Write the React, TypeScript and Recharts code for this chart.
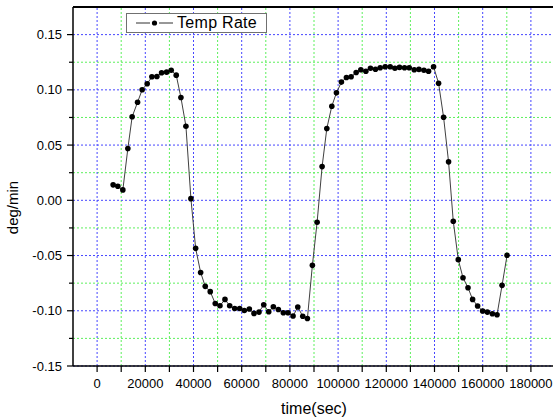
import { LineChart, Line, XAxis, YAxis, ReferenceLine, Legend } from 'recharts';

// time (s) and rate (deg/min)
const TIME = [
  6650, 8600, 10680, 12760, 14540, 16790, 18700, 20780, 22730, 24810, 26760, 28840, 30750, 32830,
  34780, 36860, 38930, 40890, 42960, 44870, 46950, 49030, 50980, 53060, 55010, 57090, 59170, 61080,
  63160, 65110, 67190, 69140, 71220, 73130, 75210, 77280, 79240, 81310, 83270, 85340, 87260, 89330,
  91290, 93360, 95320, 97390, 99310, 101380, 103460, 105410, 107490, 109440, 111520, 113430, 115510,
  117460, 119540, 121620, 123570, 125480, 127560, 129510, 131590, 133540, 135620, 137530, 139610,
  141690, 143770, 145840, 147790, 149870, 151820, 153900, 155810, 157890, 159970, 161920, 164000,
  165950, 168030, 170110,
];
const RATE = [
  0.014, 0.0127, 0.0094, 0.0469, 0.0756, 0.0888, 0.1001, 0.1055, 0.1118, 0.1121, 0.1155, 0.116,
  0.1178, 0.1133, 0.0931, 0.0671, 0.0015, -0.0435, -0.0653, -0.0779, -0.0827, -0.0934, -0.0954,
  -0.0897, -0.0954, -0.0979, -0.0979, -0.0997, -0.0984, -0.1024, -0.1012, -0.0945, -0.1009, -0.0963,
  -0.0988, -0.1018, -0.1018, -0.1048, -0.0966, -0.105, -0.107, -0.0589, -0.0199, 0.0305, 0.065,
  0.0852, 0.0973, 0.107, 0.1112, 0.1118, 0.1157, 0.1182, 0.1169, 0.1196, 0.1187, 0.12, 0.1209,
  0.1209, 0.1196, 0.1203, 0.12, 0.12, 0.1182, 0.1185, 0.1178, 0.1169, 0.1209, 0.106, 0.0752, 0.0348,
  -0.019, -0.0537, -0.0701, -0.0791, -0.0897, -0.0957, -0.1002, -0.1012, -0.1027, -0.1036, -0.077,
  -0.0498,
];

const X_MAJOR = [0, 20000, 40000, 60000, 80000, 100000, 120000, 140000, 160000, 180000];
const X_MINOR = [10000, 30000, 50000, 70000, 90000, 110000, 130000, 150000, 170000];
const Y_MAJOR = [-0.15, -0.1, -0.05, 0, 0.05, 0.1, 0.15];
const Y_MINOR = [-0.125, -0.075, -0.025, 0.025, 0.075, 0.125];

const data = TIME.map((t, i) => ({ time: t, rate: RATE[i] }));

const FONT = '"Liberation Sans", Arial, sans-serif';
const AXIS_X = 73;
const BLUE = '#4646ff';
const GREEN = '#5cf05c';

function YTick(props: any) {
  const { y, payload } = props;
  const v = payload.value as number;
  const major = Y_MAJOR.some((m) => Math.abs(m - v) < 1e-9);
  return (
    <g>
      <line x1={AXIS_X - (major ? 6 : 4)} x2={AXIS_X} y1={y} y2={y} stroke="#000" strokeWidth={1.2} />
      {major && (
        <text x={AXIS_X - 11} y={y} dy="0.35em" textAnchor="end" fontSize={13} fill="#000" fontFamily={FONT}>
          {v.toFixed(2)}
        </text>
      )}
    </g>
  );
}

function YLabel(props: any) {
  const { viewBox } = props;
  const cx = 13;
  const cy = viewBox.y + viewBox.height / 2 + 21;
  return (
    <text x={cx} y={cy} transform={`rotate(-90 ${cx} ${cy})`} textAnchor="middle" dy="0.35em" fontSize={15} fill="#000" fontFamily={FONT}>
      deg/min
    </text>
  );
}

function LegendBox() {
  return (
    <div
      style={{
        display: 'flex',
        alignItems: 'center',
        width: 139,
        height: 18,
        border: '1px solid #707070',
        background: '#fff',
        fontFamily: FONT,
        fontSize: 16,
        color: '#000',
        boxSizing: 'content-box',
      }}
    >
      <svg width={50} height={18}>
        <line x1={9} x2={23} y1={9} y2={9} stroke="#303030" strokeWidth={1} />
        <line x1={32} x2={46} y1={9} y2={9} stroke="#303030" strokeWidth={1} />
        <circle cx={27.5} cy={9} r={2.6} fill="#000" />
      </svg>
      <span style={{ lineHeight: '18px', letterSpacing: 0.3 }}>Temp Rate</span>
    </div>
  );
}

export default function App() {
  return (
    <div style={{ position: 'absolute', left: 0, top: 0, width: 553, height: 419, overflow: 'hidden', background: '#fff' }}>
      <LineChart width={560} height={419} data={data} margin={{ top: 7, right: 5, left: 0, bottom: 0 }} style={{ fontFamily: FONT }}>
        {X_MINOR.map((v) => (
          <ReferenceLine key={`xm${v}`} x={v} stroke={GREEN} strokeDasharray="2 2" />
        ))}
        {Y_MINOR.map((v) => (
          <ReferenceLine key={`ym${v}`} y={v} stroke={GREEN} strokeDasharray="2 2" />
        ))}
        {X_MAJOR.map((v) => (
          <ReferenceLine key={`xM${v}`} x={v} stroke={BLUE} strokeDasharray="2 2" />
        ))}
        {Y_MAJOR.map((v) => (
          <ReferenceLine key={`yM${v}`} y={v} stroke={BLUE} strokeDasharray="2 2" />
        ))}
        <ReferenceLine y={0.175} stroke="#000" strokeWidth={2} />
        <XAxis
          dataKey="time"
          type="number"
          domain={[-10000, 190000]}
          ticks={[...X_MAJOR, ...X_MINOR].sort((a, b) => a - b)}
          tickFormatter={(v: number) => (v % 20000 === 0 ? String(v) : '')}
          interval={0}
          height={53}
          tickSize={6}
          tickMargin={7}
          axisLine={{ stroke: '#000', strokeWidth: 1.5 }}
          tickLine={{ stroke: '#000', strokeWidth: 1.2 }}
          tick={{ fill: '#000', fontSize: 13 }}
          label={{ value: 'time(sec)', position: 'insideBottom', offset: 5, fill: '#000', fontSize: 16 }}
        />
        <YAxis
          type="number"
          domain={[-0.15, 0.175]}
          ticks={[...Y_MAJOR, ...Y_MINOR].sort((a, b) => a - b)}
          interval={0}
          width={73}
          axisLine={{ stroke: '#000', strokeWidth: 1.5 }}
          tickLine={false}
          tick={<YTick />}
          label={<YLabel />}
        />
        <Legend
          layout="vertical"
          align="center"
          verticalAlign="middle"
          content={<LegendBox />}
          wrapperStyle={{ left: 126, top: 13, width: 'auto' }}
        />
        <Line
          dataKey="rate"
          stroke="#404040"
          strokeWidth={1}
          dot={{ r: 2.8, fill: '#000', stroke: 'none' }}
          isAnimationActive={false}
        />
      </LineChart>
    </div>
  );
}
